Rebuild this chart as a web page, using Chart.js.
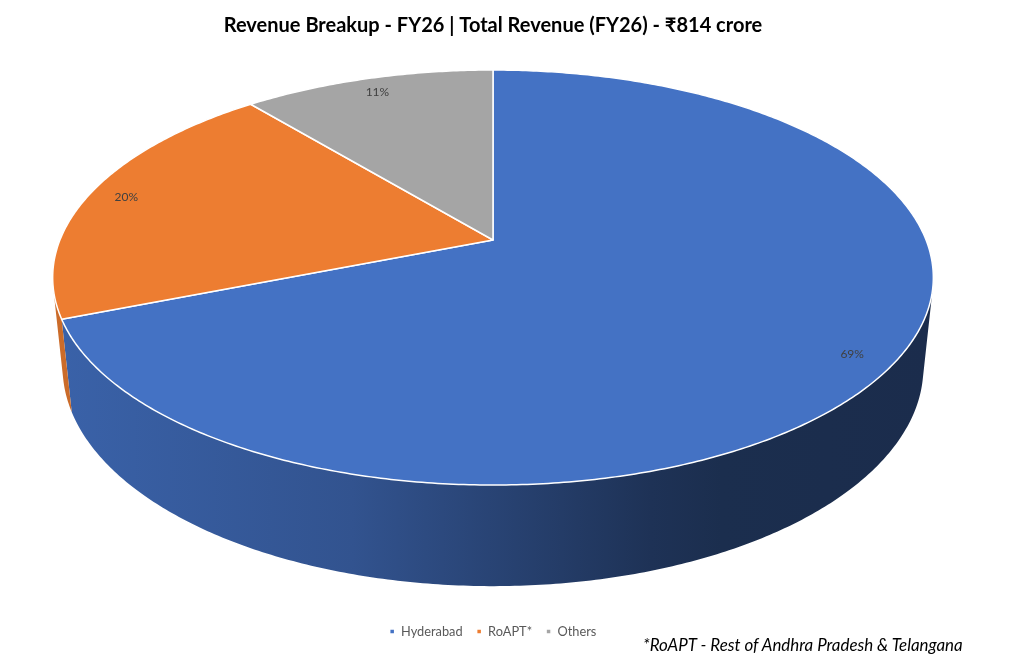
<!DOCTYPE html>
<html>
<head>
<meta charset="utf-8">
<script src="https://cdn.jsdelivr.net/npm/chart.js@4.4.1/dist/chart.umd.min.js"></script>
<style>
  html, body { margin: 0; padding: 0; background: #ffffff; }
  #wrap { position: relative; width: 1024px; height: 656px; }
  #note { position: absolute; left: 643px; top: 634px; font-family: Lato, "Open Sans", sans-serif; font-style: italic; font-size: 16.9px; color: #000; white-space: nowrap; }
</style>
</head>
<body>
<div id="wrap">
  <canvas id="c" width="1024" height="656"></canvas>
  <div id="note">*RoAPT - Rest of Andhra Pradesh &amp; Telangana</div>
</div>
<script>
const categories = ['Hyderabad', 'RoAPT*', 'Others'];
const shares = [69, 20, 11];
const sliceColors = ['#4472C4', '#ED7D31', '#A5A5A5'];
const chartTitle = 'Revenue Breakup - FY26 | Total Revenue (FY26) - \u20B9814 crore';

function hexRgb(h) { const n = parseInt(h.slice(1), 16); return [(n >> 16) & 255, (n >> 8) & 255, n & 255]; }
function shade(h, f) { const c = hexRgb(h); return 'rgb(' + c.map(v => Math.round(v * f)).join(',') + ')'; }

const pie3d = {
  id: 'pie3d',
  beforeDatasetsDraw(chart) {
    const ctx = chart.ctx;
    const meta = chart.getDatasetMeta(0);
    const ds = chart.data.datasets[0];
    const cx = meta.data[0].x;
    const cy = 240;
    const F = 2122, D = 4.9, SA = 0.4635, CA = 0.886, T = 0.236;
    const P = (a, r, h) => {
      const u = Math.cos(a) * r, v = Math.sin(a) * r;
      const den = D - v * CA + h * SA;
      return [cx + F * u / den, cy + F * (v * SA + h * CA) / den];
    };
    const vis = Math.asin(1 / (D * CA));
    ctx.save();
    // side walls
    meta.data.forEach((arc, i) => {
      const lo = Math.max(arc.startAngle, vis), hi = Math.min(arc.endAngle, Math.PI - vis);
      if (hi <= lo) return;
      const n = Math.max(2, Math.ceil((hi - lo) / 0.01));
      ctx.beginPath();
      for (let k = 0; k <= n; k++) { const p = P(lo + (hi - lo) * k / n, 1, 0); k ? ctx.lineTo(p[0], p[1]) : ctx.moveTo(p[0], p[1]); }
      for (let k = n; k >= 0; k--) { const p = P(lo + (hi - lo) * k / n, 1, T); ctx.lineTo(p[0], p[1]); }
      ctx.closePath();
      const g = ctx.createLinearGradient(cx - 440, 0, cx + 440, 0);
      const base = ds.backgroundColor[i];
      g.addColorStop(0, shade(base, 0.86));
      g.addColorStop(0.34, shade(base, 0.73));
      g.addColorStop(0.68, shade(base, 0.44));
      g.addColorStop(0.76, shade(base, 0.40));
      g.addColorStop(1, shade(base, 0.39));
      ctx.fillStyle = g;
      ctx.fill();
    });
    // top faces
    meta.data.forEach((arc, i) => {
      const a0 = arc.startAngle, a1 = arc.endAngle;
      const n = Math.max(2, Math.ceil((a1 - a0) / 0.01));
      ctx.beginPath();
      const c0 = P(0, 0, 0);
      ctx.moveTo(c0[0], c0[1]);
      for (let k = 0; k <= n; k++) { const p = P(a0 + (a1 - a0) * k / n, 1, 0); ctx.lineTo(p[0], p[1]); }
      ctx.closePath();
      ctx.fillStyle = ds.backgroundColor[i];
      ctx.fill();
      ctx.lineWidth = 1.5;
      ctx.lineJoin = 'round';
      ctx.strokeStyle = '#ffffff';
      ctx.stroke();
    });
    // data labels
    const total = ds.data.reduce((s, v) => s + v, 0);
    ctx.font = '12px Lato, "Open Sans", sans-serif';
    ctx.fillStyle = '#404040';
    ctx.textAlign = 'center';
    ctx.textBaseline = 'middle';
    meta.data.forEach((arc, i) => {
      const mid = (arc.startAngle + arc.endAngle) / 2;
      const p = P(mid, 0.91, 0);
      ctx.fillText(Math.round(ds.data[i] / total * 100) + '%', p[0], p[1] + 1);
    });
    ctx.restore();
    return false;
  }
};

new Chart(document.getElementById('c'), {
  type: 'pie',
  data: {
    labels: categories,
    datasets: [{ data: shares, backgroundColor: sliceColors, borderColor: '#ffffff', borderWidth: 1.5 }]
  },
  options: {
    responsive: false,
    animation: false,
    layout: { padding: { left: 0, right: 38, top: 0, bottom: 8 } },
    plugins: {
      title: {
        display: true,
        text: chartTitle,
        color: '#000000',
        font: { family: 'Lato, "Open Sans", sans-serif', size: 20, weight: 'bold' },
        padding: { top: 14, bottom: 10 }
      },
      legend: {
        position: 'bottom',
        labels: {
          boxWidth: 5, boxHeight: 5, padding: 14,
          color: '#595959',
          font: { family: 'Lato, "Open Sans", sans-serif', size: 12.8 }
        }
      },
      tooltip: { enabled: false }
    }
  },
  plugins: [pie3d]
});
</script>
</body>
</html>
